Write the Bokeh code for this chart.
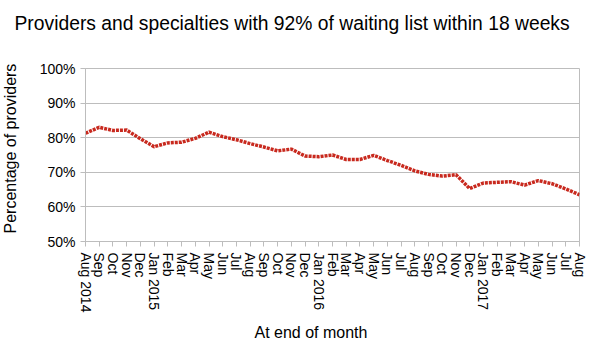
import math
from bokeh.plotting import figure
from bokeh.models import Range1d, FixedTicker, PrintfTickFormatter, ColumnDataSource, Title
from bokeh.embed import file_html
from bokeh.resources import INLINE

months = ["Aug 2014", "Sep", "Oct", "Nov", "Dec", "Jan 2015", "Feb", "Mar", "Apr", "May",
          "Jun", "Jul", "Aug", "Sep", "Oct", "Nov", "Dec", "Jan 2016", "Feb", "Mar", "Apr",
          "May", "Jun", "Jul", "Aug", "Sep", "Oct", "Nov", "Dec", "Jan 2017", "Feb", "Mar",
          "Apr", "May", "Jun", "Jul", "Aug"]
pct = [81.3, 83.0, 82.1, 82.2, 79.7, 77.4, 78.5, 78.7, 79.8, 81.6,
       80.3, 79.4, 78.3, 77.3, 76.2, 76.7, 74.7, 74.5, 75.0, 73.7, 73.7,
       74.9, 73.4, 72.0, 70.4, 69.4, 68.9, 69.3, 65.3, 66.9, 67.1, 67.3,
       66.3, 67.6, 66.7, 65.2, 63.5]
y_ticks = [50, 60, 70, 80, 90, 100]

FONT = "Liberation Sans"
GRAY = "#bdbdbd"

idx = list(range(len(months)))
src = ColumnDataSource(data=dict(x=idx, y=pct, month=months))

p = figure(width=592, height=354, output_backend="svg", toolbar_location=None,
           x_range=Range1d(0, len(months) - 1), y_range=Range1d(50, 100),
           min_border_left=85, min_border_right=13, min_border_top=68, min_border_bottom=113,
           title="Providers and specialties with 92% of waiting list within 18 weeks")

p.title.text_font = FONT
p.title.text_font_size = "19.3px"
p.title.text_font_style = "normal"
p.title.text_color = "black"
p.title.align = "left"
p.title.offset = -71
p.title.vertical_align = "top"
p.title.standoff = 0

# spacer panel between frame and title (pushes title up)
top_spacer = Title(text=" ", text_font_size="1px", standoff=30)
p.add_layout(top_spacer, "above")

p.line("x", "y", source=src, line_color="#c8291e", line_width=3.5, line_dash="3 1")

p.outline_line_color = GRAY
p.xgrid.grid_line_color = None
p.ygrid.grid_line_color = GRAY
p.ygrid.ticker = FixedTicker(ticks=y_ticks)

xa = p.xaxis[0]
xa.ticker = FixedTicker(ticks=idx)
xa.major_label_overrides = {i: m for i, m in enumerate(months)}
xa.major_label_orientation = -math.pi / 2
xa.major_label_text_font = FONT
xa.major_label_text_font_size = "14px"
xa.major_label_text_color = "black"
xa.major_label_standoff = 6
xa.major_tick_out = 5
xa.major_tick_in = 0
xa.minor_tick_out = 0
xa.minor_tick_in = 0
xa.axis_line_color = GRAY
xa.major_tick_line_color = GRAY

ya = p.yaxis[0]
ya.ticker = FixedTicker(ticks=y_ticks)
ya.formatter = PrintfTickFormatter(format="%d%%")
ya.major_label_text_font = FONT
ya.major_label_text_font_size = "14px"
ya.major_label_text_color = "black"
ya.major_label_standoff = 5
ya.major_tick_out = 5
ya.major_tick_in = 0
ya.minor_tick_out = 0
ya.minor_tick_in = 0
ya.axis_line_color = GRAY
ya.major_tick_line_color = GRAY

xt = Title(text="At end of month", align="left", offset=169, standoff=12,
           text_font=FONT, text_font_size="16px", text_font_style="normal", text_color="black")
p.add_layout(xt, "below")

left_spacer = Title(text=" ", text_font_size="1px", standoff=13)
p.add_layout(left_spacer, "left")

yt = Title(text="Percentage of providers", align="left", offset=8, standoff=0,
           vertical_align="top",
           text_font=FONT, text_font_size="16px", text_font_style="normal", text_color="black")
p.add_layout(yt, "left")

open("out.html", "w").write(file_html(p, INLINE))
